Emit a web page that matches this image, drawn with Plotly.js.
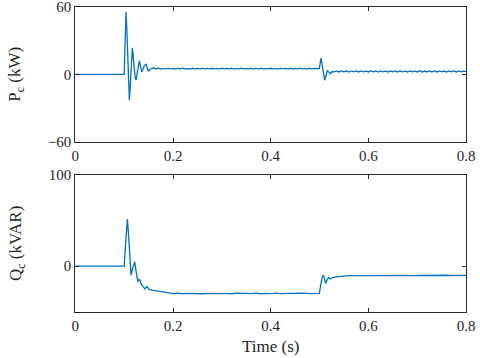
<!DOCTYPE html>
<html>
<head>
<meta charset="utf-8">
<script src="https://cdn.plot.ly/plotly-3.0.1.min.js"></script>
<style>
  html, body { margin: 0; padding: 0; background: #fff; }
  #plot { width: 480px; height: 358px; }
</style>
</head>
<body>
<div id="plot"></div>
<script>
// P_c (kW)
var tP = [0, 0.1, 0.1012, 0.1024, 0.1038, 0.1052, 0.1072, 0.1092, 0.1106, 0.112, 0.1137, 0.1153, 0.1167, 0.1182,
  0.1205, 0.1225, 0.1243, 0.126, 0.1285, 0.131, 0.1335, 0.136, 0.1385, 0.1415, 0.1448, 0.147, 0.1495, 0.153,
  0.16, 0.165, 0.17, 0.175, 0.18, 0.185, 0.19, 0.195, 0.2, 0.205,
  0.21, 0.215, 0.22, 0.225, 0.23, 0.235, 0.24, 0.245, 0.25, 0.255,
  0.26, 0.265, 0.27, 0.275, 0.28, 0.285, 0.29, 0.295, 0.3, 0.305,
  0.31, 0.315, 0.32, 0.325, 0.33, 0.335, 0.34, 0.345, 0.35, 0.355,
  0.36, 0.365, 0.37, 0.375, 0.38, 0.385, 0.39, 0.395, 0.4, 0.405,
  0.41, 0.415, 0.42, 0.425, 0.43, 0.435, 0.44, 0.445, 0.45, 0.455,
  0.46, 0.465, 0.47, 0.475, 0.48, 0.485, 0.49, 0.495,
  0.4995, 0.501, 0.503, 0.5065, 0.5106, 0.5135, 0.516, 0.519, 0.522, 0.526, 0.53,
  0.535, 0.54, 0.545, 0.55, 0.555, 0.56, 0.565, 0.57, 0.575, 0.58,
  0.585, 0.59, 0.595, 0.6, 0.605, 0.61, 0.615, 0.62, 0.625, 0.63,
  0.635, 0.64, 0.645, 0.65, 0.655, 0.66, 0.665, 0.67, 0.675, 0.68,
  0.685, 0.69, 0.695, 0.7, 0.705, 0.71, 0.715, 0.72, 0.725, 0.73,
  0.735, 0.74, 0.745, 0.75, 0.755, 0.76, 0.765, 0.77, 0.775, 0.78,
  0.785, 0.79, 0.795, 0.8];
var P = [0, 0, 20, 45, 55.5, 42, 10, -18, -23, -14, 4, 19, 23.6, 17,
  5, -3, -5, -1, 7, 12, 7, 2.2, 4.5, 8, 9, 6, 3, 4.5,
  5.8, 4.8, 5.4, 4.7, 5.3, 4.9, 5.5, 4.8, 5.2, 4.7,
  5.4, 4.9, 5.5, 4.8, 5.1, 4.7, 5.4, 4.9, 5.3, 4.8,
  5.5, 4.7, 5.2, 4.9, 5.4, 4.8, 5.3, 4.7, 5.5, 4.9,
  5.2, 4.8, 5.4, 4.7, 5.3, 4.9, 5.5, 4.8, 5.2, 4.7,
  5.4, 4.9, 5.3, 4.8, 5.5, 4.7, 5.2, 4.9, 5.4, 4.8,
  5.3, 4.7, 5.5, 4.9, 5.2, 4.8, 5.4, 4.7, 5.3, 4.9,
  5.5, 4.8, 5.2, 4.7, 5.4, 4.9, 5.3, 5.0,
  5.0, 9, 14.5, 5, -5.2, -1, 3.5, 2, 0.5, 2.5, 2.2,
  3.0, 2.1, 3.1, 2.2, 2.9, 2.0, 3.1, 2.2, 3.0, 2.1,
  3.1, 2.2, 2.9, 2.1, 3.1, 2.2, 3.0, 2.0, 3.1, 2.2,
  2.9, 2.1, 3.1, 2.2, 3.0, 2.0, 3.1, 2.2, 2.9, 2.1,
  3.1, 2.2, 3.0, 2.1, 3.1, 2.0, 2.9, 2.2, 3.1, 2.1,
  3.0, 2.1, 3.1, 2.2, 2.9, 2.0, 3.1, 2.2, 3.0, 2.1,
  3.1, 2.2, 2.9, 2.5];

// Q_c (kVAR)
var tQ = [0, 0.1, 0.1025, 0.1045, 0.1065, 0.1085, 0.111, 0.114, 0.118, 0.1216, 0.125, 0.1278, 0.131, 0.135,
  0.1395, 0.1425, 0.1465, 0.151, 0.16, 0.17, 0.1837,
  0.2, 0.21, 0.22, 0.23, 0.24, 0.25, 0.26, 0.27, 0.28, 0.29,
  0.3, 0.31, 0.32, 0.33, 0.34, 0.35, 0.36, 0.37, 0.38, 0.39,
  0.4, 0.41, 0.42, 0.43, 0.44, 0.45, 0.46, 0.47, 0.48, 0.49,
  0.4996, 0.502, 0.505, 0.5078, 0.5105, 0.5127, 0.5155, 0.5186, 0.522, 0.527, 0.535, 0.545, 0.5537, 0.565,
  0.58, 0.59, 0.6, 0.61, 0.62, 0.63, 0.64, 0.65, 0.66, 0.67,
  0.68, 0.69, 0.7, 0.71, 0.72, 0.73, 0.74, 0.75, 0.76, 0.77,
  0.78, 0.79, 0.8];
var Q = [0, 0, 22, 44, 51.6, 38, 8, -9.9, -1, 4.7, -8, -17, -14, -20,
  -23, -25, -22.5, -25.5, -26.5, -27.5, -29,
  -30.2, -29.7, -30.3, -29.8, -30.1, -29.6, -30.3, -29.9, -30.2, -29.7,
  -30.1, -29.8, -30.3, -29.7, -30.2, -29.9, -30.1, -29.6, -30.3, -29.8,
  -30.2, -29.7, -30.1, -29.9, -30.3, -29.8, -30.1, -29.7, -30.2, -29.9,
  -30, -22, -13, -9.9, -14, -19, -15, -12.4, -14, -12.5, -11.8, -11, -10.7, -10.4,
  -10.3, -10.1, -10.4, -10.0, -10.3, -10.1, -10.4, -10.2, -10.0, -10.3,
  -10.1, -10.4, -10.0, -10.2, -10.3, -10.1, -10.4, -10.2, -10.0, -10.3,
  -10.1, -10.3, -10.2];

var xTicks = [0, 0.2, 0.4, 0.6, 0.8];
var xTickText = ['0', '0.2', '0.4', '0.6', '0.8'];
var pTicks = [-60, 0, 60];
var qTicks = [0, 100];

var blue = '#0072BD';
var axCol = '#262626';
var serif = '"Times New Roman", "Liberation Serif", "DejaVu Serif", serif';
var font = {family: serif, size: 15, color: axCol};
var titleFont = {family: serif, size: 17, color: axCol};

var traces = [
  {x: tP, y: P, type: 'scatter', mode: 'lines', line: {color: blue, width: 1.3}, xaxis: 'x', yaxis: 'y', hoverinfo: 'skip'},
  {x: tQ, y: Q, type: 'scatter', mode: 'lines', line: {color: blue, width: 1.3}, xaxis: 'x2', yaxis: 'y2', hoverinfo: 'skip'}
];

function xAxis(anchor, title) {
  var ax = {
    anchor: anchor, domain: [0.157, 0.971], range: [0, 0.8],
    tickvals: xTicks, ticktext: xTickText, ticks: 'inside', ticklen: 4, tickcolor: axCol,
    showline: true, linecolor: axCol, linewidth: 1, mirror: 'ticks',
    showgrid: false, zeroline: false, tickfont: font, automargin: false,
    ticklabeloverflow: 'allow'
  };
  if (title) ax.title = {text: title, font: titleFont, standoff: 7};
  return ax;
}
function yAxis(anchor, dom, range, ticks, title) {
  return {
    anchor: anchor, domain: dom, range: range,
    tickvals: ticks, ticks: 'inside', ticklen: 4, tickcolor: axCol,
    showline: true, linecolor: axCol, linewidth: 1, mirror: 'ticks',
    showgrid: false, zeroline: false, tickfont: font, automargin: false,
    ticklabeloverflow: 'allow',
    title: {text: title, font: titleFont, standoff: 22}
  };
}

var layout = {
  width: 480, height: 358,
  margin: {l: 0, r: 0, t: 0, b: 0},
  paper_bgcolor: '#fff', plot_bgcolor: '#fff',
  font: {family: serif, color: axCol},
  showlegend: false,
  xaxis: xAxis('y', null),
  yaxis: yAxis('x', [0.6034, 0.9813], [-60, 60], pTicks, 'P<sub>c</sub> (kW)'),
  xaxis2: xAxis('y2', 'Time (s)'),
  yaxis2: yAxis('x2', [0.1293, 0.5112], [-50, 100], qTicks, 'Q<sub>c</sub> (kVAR)')
};

Plotly.newPlot('plot', traces, layout, {displayModeBar: false, staticPlot: true});
</script>
</body>
</html>
